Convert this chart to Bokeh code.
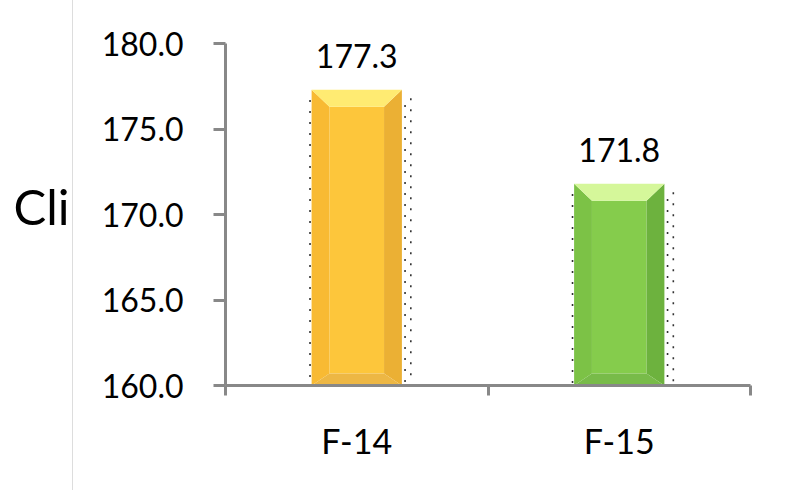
from bokeh.plotting import figure
from bokeh.models import Range1d, FixedTicker, PrintfTickFormatter, Div
from bokeh.layouts import row
from bokeh.core.properties import value
from bokeh.embed import file_html
from bokeh.resources import INLINE

# ---- data ----
categories = ["F-14", "F-15"]
values = [177.3, 171.8]
y_ticks = [160, 165, 170, 175, 180]
y_min, y_max = 160, 180
title_fragment = ["Cli"]

face_colors = ["#FDC63B", "#85CC4C"]
top_colors = ["#FFEB72", "#D5F79A"]
left_colors = ["#F8BA33", "#7CC246"]
right_colors = ["#EBB034", "#6DB23E"]
bottom_colors = ["#EDB744", "#78BB49"]

FONT = "Lato"
AX = "#888888"

# ---- geometry styles (data-unit sizes of the bevel) ----
hw = 0.172      # half bar width
bx = 0.068      # side bevel width
bt = 1.0        # top bevel height
bb = 0.7        # bottom bevel height

centers = [i + 0.5 for i in range(len(categories))]

H = 490
TOP, BOTTOM = 43, 105
LEFT_W = 72

# ---- left strip (clipped title fragment) ----
q = figure(width=LEFT_W, height=H, x_range=Range1d(0, LEFT_W),
           y_range=Range1d(H - BOTTOM, TOP), output_backend="svg",
           toolbar_location=None, x_axis_type=None, y_axis_type=None,
           min_border_left=0, min_border_right=0,
           min_border_top=TOP, min_border_bottom=BOTTOM)
q.margin = 0
q.outline_line_color = None
q.xgrid.visible = False
q.ygrid.visible = False
q.text(x=[13], y=[205], text=title_fragment, text_baseline="alphabetic",
       text_align="left", text_font=value(FONT), text_font_size="49px",
       text_color="black")

edge = Div(width=1, height=H, margin=0, styles={"background-color": "#DDDDDD"})

# ---- main chart ----
p = figure(width=707, height=H, x_range=Range1d(0, len(categories)),
           y_range=Range1d(y_min, y_max), output_backend="svg",
           toolbar_location=None, min_border_left=152, min_border_right=30,
           min_border_top=TOP, min_border_bottom=BOTTOM)
p.margin = 0
p.outline_line_color = None
p.xgrid.visible = False
p.ygrid.visible = False
p.background_fill_color = "white"
p.border_fill_color = "white"

xs, ys, cols = [], [], []
for c, v, fc, tc, lc, rc, bc in zip(centers, values, face_colors, top_colors,
                                     left_colors, right_colors, bottom_colors):
    L, R, T, B = c - hw, c + hw, v, y_min
    xs.append([L + bx, R - bx, R - bx, L + bx]); ys.append([T - bt, T - bt, B + bb, B + bb]); cols.append(fc)
    xs.append([L, L + bx, L + bx, L]); ys.append([T, T - bt, B + bb, B]); cols.append(lc)
    xs.append([R, R - bx, R - bx, R]); ys.append([T, T - bt, B + bb, B]); cols.append(rc)
    xs.append([L, L + bx, R - bx, R]); ys.append([B, B + bb, B + bb, B]); cols.append(bc)
    xs.append([L, R, R - bx, L + bx]); ys.append([T, T, T - bt, T - bt]); cols.append(tc)

p.patches(xs, ys, fill_color=cols, line_color=None)

# dotted shadow lines
for dx, top_gap in [(-0.006, 0.6), (0.012, 0.9), (0.034, 0.5)]:
    p.segment(x0=[c + (hw if dx > 0 else -hw) + dx for c in centers],
              y0=[v - top_gap for v in values],
              x1=[c + (hw if dx > 0 else -hw) + dx for c in centers],
              y1=[y_min] * len(values),
              line_dash="2 9", line_color="#333333", line_width=1.6)

# value labels
p.text(x=centers, y=values, text=[f"{v:.1f}" for v in values],
       text_align="center", text_baseline="alphabetic", y_offset=-34,
       text_font=value(FONT), text_font_size="32px", text_color="black")

# y axis
p.yaxis.ticker = FixedTicker(ticks=y_ticks, minor_ticks=[])
p.yaxis.formatter = PrintfTickFormatter(format="%.1f")
p.yaxis.axis_line_width = 3
p.yaxis.axis_line_color = AX
p.yaxis.major_tick_out = 12
p.yaxis.major_tick_in = 0
p.yaxis.major_tick_line_width = 3
p.yaxis.major_tick_line_color = AX
p.yaxis.minor_tick_out = 0
p.yaxis.major_label_standoff = 30
p.yaxis.major_label_text_font = FONT
p.yaxis.major_label_text_font_size = "32px"
p.yaxis.major_label_text_color = "black"

# x axis
p.xaxis.ticker = FixedTicker(ticks=centers, minor_ticks=list(range(len(categories) + 1)))
p.xaxis.major_label_overrides = {c: cat for c, cat in zip(centers, categories)}
p.xaxis.axis_line_width = 3
p.xaxis.axis_line_color = AX
p.xaxis.major_tick_out = 0
p.xaxis.major_tick_in = 0
p.xaxis.minor_tick_out = 10
p.xaxis.minor_tick_in = 0
p.xaxis.minor_tick_line_width = 3
p.xaxis.minor_tick_line_color = AX
p.xaxis.major_label_standoff = 24
p.xaxis.major_label_text_font = FONT
p.xaxis.major_label_text_font_size = "34px"
p.xaxis.major_label_text_color = "black"

layout = row(q, edge, p)
layout.margin = 0
layout.spacing = 0
open("out.html", "w").write(file_html(layout, INLINE))
